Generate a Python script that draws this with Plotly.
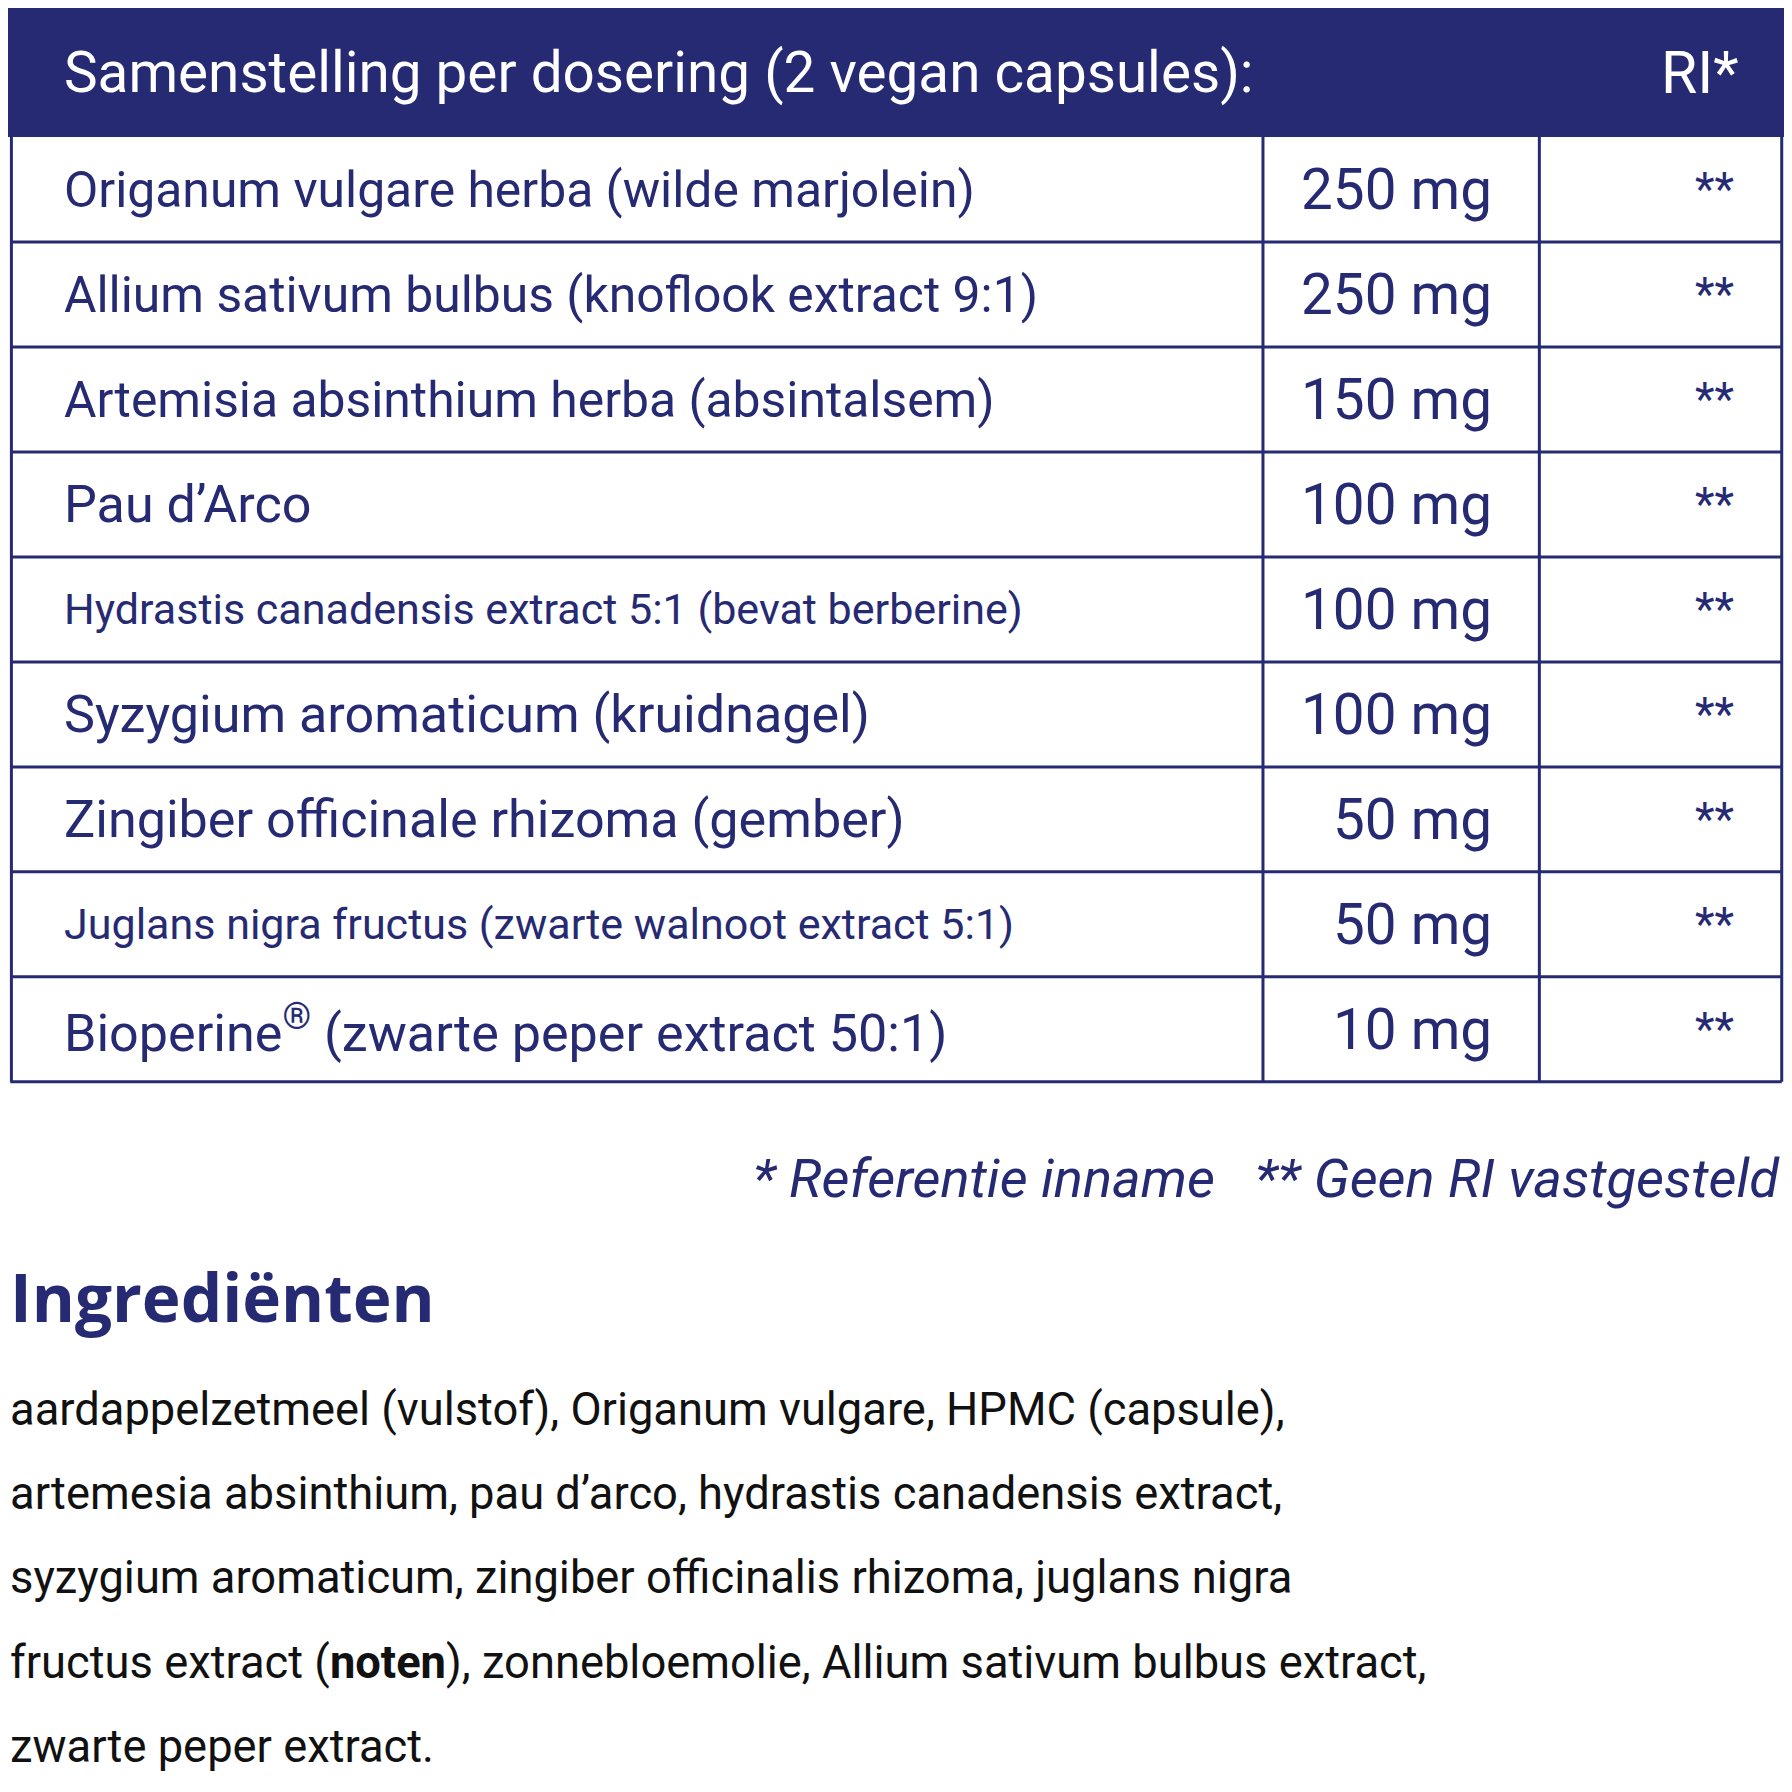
import plotly.graph_objects as go

# data
header_title = "Samenstelling per dosering (2 vegan capsules):"
header_ri = "RI*"
ingredients = [
    "Origanum vulgare herba (wilde marjolein)",
    "Allium sativum bulbus (knoflook extract 9:1)",
    "Artemisia absinthium herba (absintalsem)",
    "Pau d\u2019Arco",
    "Hydrastis canadensis extract 5:1 (bevat berberine)",
    "Syzygium aromaticum (kruidnagel)",
    "Zingiber officinale rhizoma (gember)",
    "Juglans nigra fructus (zwarte walnoot extract 5:1)",
    "Bioperine<sup>®</sup> (zwarte peper extract 50:1)",
]
name_sizes = [44, 44, 44, 46, 38, 46, 46, 38, 46]
amounts = ["250 mg", "250 mg", "150 mg", "100 mg", "100 mg", "100 mg", "50 mg", "50 mg", "10 mg"]
ri_values = ["**"] * 9
footnote = "<i>* Referentie inname   ** Geen RI vastgesteld</i>"
ingr_title = "Ingrediënten"
ingr_lines = [
    "aardappelzetmeel (vulstof), Origanum vulgare, HPMC (capsule),",
    "artemesia absinthium, pau d\u2019arco, hydrastis canadensis extract,",
    "syzygium aromaticum, zingiber officinalis rhizoma, juglans nigra",
    "fructus extract (<b>noten</b>), zonnebloemolie, Allium sativum bulbus extract,",
    "zwarte peper extract.",
]

NAVY = "#262a73"
FONT = "Roboto, sans-serif"
W = 1776
S = W / 1568

fig = go.Figure()
shapes = []
ann = []

# header band
shapes.append(dict(type="rect", x0=0, x1=1568, y0=0, y1=114, fillcolor=NAVY, line_width=0, layer="below"))
ann.append(dict(x=48, y=57, text=header_title, xanchor="left", showarrow=False,
                font=dict(size=50 * S, color="white", family=FONT)))
ann.append(dict(x=1530, y=57, text=header_ri, xanchor="right", showarrow=False,
                font=dict(size=52 * S, color="white", family=FONT)))

top, rh = 114, (948 - 114) / len(ingredients)
for i, (name, amt, ri) in enumerate(zip(ingredients, amounts, ri_values)):
    yc = top + (i + 0.5) * rh
    ann.append(dict(x=48, y=yc, text=name, xanchor="left", showarrow=False,
                    font=dict(size=name_sizes[i] * S, color=NAVY, family=FONT)))
    ann.append(dict(x=1312, y=yc, text=amt, xanchor="right", showarrow=False,
                    font=dict(size=50 * S, color=NAVY, family=FONT)))
    ann.append(dict(x=1526, y=yc, text=ri, xanchor="right", showarrow=False,
                    font=dict(size=40 * S, color=NAVY, family=FONT)))
    shapes.append(dict(type="line", x0=2, x1=1566, y0=top + (i + 1) * rh, y1=top + (i + 1) * rh,
                       line=dict(color=NAVY, width=3)))

for xv in [3, 1108, 1352, 1566]:
    shapes.append(dict(type="line", x0=xv, x1=xv, y0=top, y1=948, line=dict(color=NAVY, width=3)))

ann.append(dict(x=1566, y=1033, text=footnote, xanchor="right", showarrow=False,
                font=dict(size=48 * S, color=NAVY, family=FONT)))
ann.append(dict(x=0, y=1138, text="<b>" + ingr_title + "</b>", xanchor="left", showarrow=False,
                font=dict(size=58 * S, color=NAVY, family="Open Sans, Lato, sans-serif")))
for j, line in enumerate(ingr_lines):
    ann.append(dict(x=0, y=1237 + j * 74.5, text=line, xanchor="left", showarrow=False,
                    font=dict(size=40 * S, color="#111111", family=FONT)))

fig.update_layout(
    width=W, height=W, margin=dict(l=0, r=0, t=0, b=0),
    paper_bgcolor="white", plot_bgcolor="white",
    xaxis=dict(range=[0, 1568], visible=False, fixedrange=True),
    yaxis=dict(range=[1568, 0], visible=False, fixedrange=True),
    shapes=shapes, annotations=ann, showlegend=False,
)
fig.write_html("out.html")
